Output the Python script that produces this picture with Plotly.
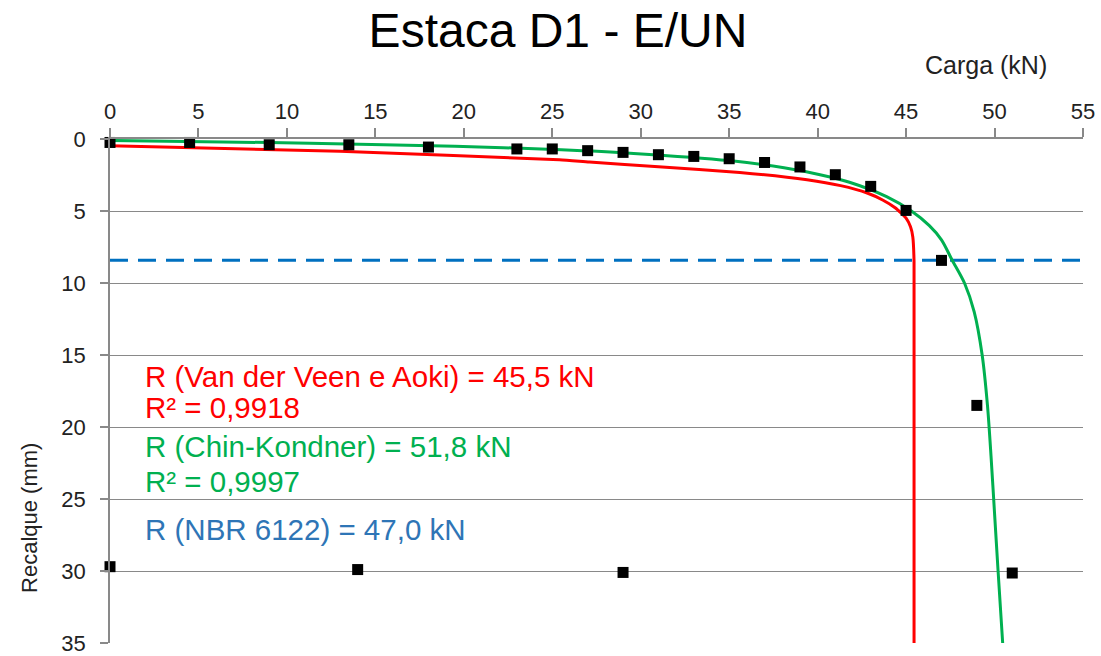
import plotly.graph_objects as go

# ---- measured load test data (Carga kN, Recalque mm) ----
carga = [0, 4.5, 9, 13.5, 18, 23, 25, 27, 29, 31, 33, 35, 37, 39, 41, 43, 45, 47, 49, 51]
recalque = [0.24, 0.24, 0.40, 0.40, 0.56, 0.69, 0.69, 0.81, 0.93, 1.09, 1.21, 1.37, 1.63,
            1.94, 2.48, 3.29, 4.96, 8.43, 18.5, 30.14]
# unloading points
carga_desc = [0, 14, 29]
recalque_desc = [29.7, 29.9, 30.1]

# ---- Van der Veen e Aoki curve ----
vdv_carga = [0, 13.0, 25.4, 27.1, 31.0, 35.6, 39.4, 41.3, 42.8, 43.7, 44.4, 45.0, 45.25, 45.38, 45.45, 45.45]
vdv_recalque = [0.47, 0.85, 1.44, 1.60, 1.92, 2.32, 2.83, 3.24, 3.75, 4.25, 4.79, 5.5, 6.1, 6.8, 8.5, 35]

# ---- Chin-Kondner curve ----
chin_carga = [0, 6.4, 11.3, 19.5, 25.5, 29.6, 35.0, 38.1, 40.2, 41.8, 43.9, 45.3, 46.3, 47.0,
              47.6, 48.3, 48.85, 49.3, 49.6, 49.8, 50.0, 50.2, 50.46]
chin_recalque = [0.1, 0.2, 0.3, 0.5, 0.75, 1, 1.5, 2, 2.5, 3, 4, 5, 6, 7, 8.4, 10, 12, 15,
                 18.5, 22, 26, 30, 35]

# ---- NBR 6122 settlement line ----
nbr_carga = [0, 55]
nbr_recalque = [8.42, 8.42]

x_ticks = [0, 5, 10, 15, 20, 25, 30, 35, 40, 45, 50, 55]
y_ticks = [0, 5, 10, 15, 20, 25, 30, 35]

texts = [
    ("R (Van der Veen e Aoki) = 45,5 kN", "#FF0000", 0.528),
    ("R² = 0,9918", "#FF0000", 0.4663),
    ("R (Chin-Kondner) = 51,8 kN", "#00B050", 0.390),
    ("R² = 0,9997", "#00B050", 0.3214),
    ("R (NBR 6122) = 47,0 kN", "#2E75B6", 0.226),
]

FONT = "Liberation Sans, Arial, sans-serif"

fig = go.Figure()
fig.add_trace(go.Scatter(x=nbr_carga, y=nbr_recalque, mode="lines",
                         line=dict(color="#0070C0", width=3, dash="18px,10px"),
                         hoverinfo="skip"))
fig.add_trace(go.Scatter(x=vdv_carga, y=vdv_recalque, mode="lines",
                         line=dict(color="#FF0000", width=3, shape="spline", smoothing=0.5),
                         cliponaxis=False))
fig.add_trace(go.Scatter(x=chin_carga, y=chin_recalque, mode="lines",
                         line=dict(color="#00B050", width=3, shape="spline", smoothing=0.8),
                         cliponaxis=False))
fig.add_trace(go.Scatter(x=carga, y=recalque, mode="markers",
                         marker=dict(symbol="square", size=11, color="black"),
                         cliponaxis=False))
fig.add_trace(go.Scatter(x=carga_desc, y=recalque_desc, mode="markers",
                         marker=dict(symbol="square", size=11, color="black"),
                         cliponaxis=False))

annotations = []
for t, c, y in texts:
    annotations.append(dict(text=t, x=0.034, y=y, xref="paper", yref="paper",
                            xanchor="left", yanchor="middle", showarrow=False,
                            font=dict(family=FONT, size=29.5, color=c)))
annotations.append(dict(text="Carga (kN)", x=0.9003, y=1.1468, xref="paper", yref="paper",
                        xanchor="center", yanchor="middle", showarrow=False,
                        font=dict(family=FONT, size=25, color="#222222")))
annotations.append(dict(text="Recalque (mm)", x=-0.0833, y=0.248, xref="paper", yref="paper",
                        xanchor="center", yanchor="middle", showarrow=False, textangle=-90,
                        font=dict(family=FONT, size=22, color="#222222")))

fig.update_layout(
    width=1101, height=656,
    margin=dict(l=110, r=18, t=139, b=13, autoexpand=False),
    paper_bgcolor="white", plot_bgcolor="white",
    showlegend=False,
    title=dict(text="Estaca D1 - E/UN", x=558 / 1101, y=1 - 30 / 656,
               xref="container", yref="container", xanchor="center", yanchor="middle",
               font=dict(family=FONT, size=48, color="black")),
    annotations=annotations,
    xaxis=dict(side="top", range=[0, 55], tickvals=x_ticks, ticks="outside", ticklen=9,
               tickcolor="#898989", tickwidth=1.5, showline=True, linecolor="#898989",
               linewidth=1.5, showgrid=False, zeroline=False, automargin=False,
               tickfont=dict(family=FONT, size=22, color="#222222")),
    yaxis=dict(range=[35, 0], tickvals=y_ticks, ticks="outside", ticklen=8,
               tickcolor="#898989", tickwidth=1.5, showline=True, linecolor="#898989",
               linewidth=1.5, showgrid=True, gridcolor="#898989", gridwidth=1.2,
               zeroline=False, ticklabelstandoff=10, automargin=False,
               tickfont=dict(family=FONT, size=22, color="#222222")),
)

fig.write_html("out.html", config={"displayModeBar": False},
               post_script="document.body.style.margin='0';document.body.style.overflow='hidden';")
